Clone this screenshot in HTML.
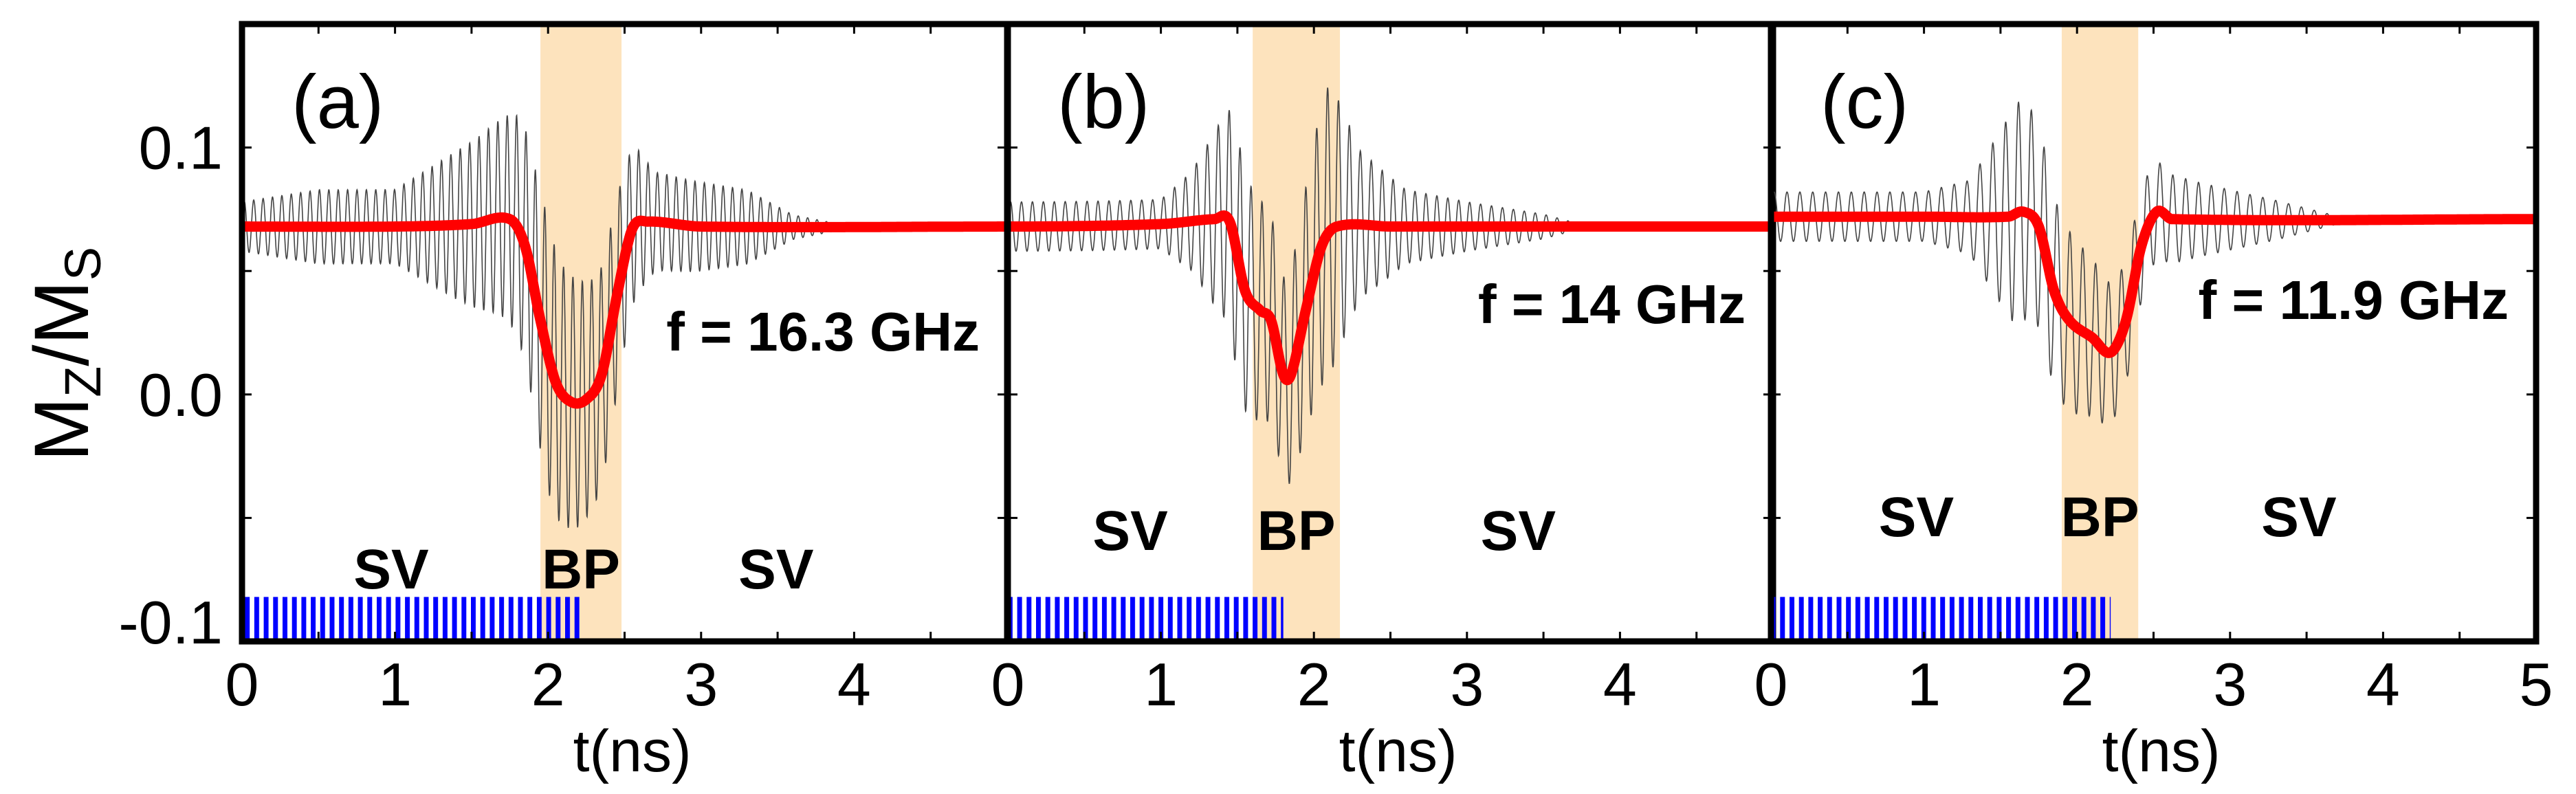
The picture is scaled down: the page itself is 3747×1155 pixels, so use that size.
<!DOCTYPE html>
<html><head><meta charset="utf-8"><style>
html,body{margin:0;padding:0;background:#fff;}
svg{display:block;font-family:"Liberation Sans",Arial,sans-serif;}
</style></head><body>
<svg id="chart" width="3747" height="1155" viewBox="0 0 3747 1155">
<defs>
<pattern id="stripes" patternUnits="userSpaceOnUse" width="13.7" height="100"><rect x="0" y="0" width="7" height="100" fill="#0000ff"/></pattern>
</defs>
<g id="plots"></g>
<text x="0" y="0" transform="translate(128,515) rotate(-90)" text-anchor="middle" font-size="112">M<tspan font-size="74" dy="18">Z</tspan><tspan dy="-18">/M</tspan><tspan font-size="74" dy="18">S</tspan></text>
</svg>
<script>
const panelLabels=["(a)","(b)","(c)"];
const freqLabels=["f = 16.3 GHz","f = 14 GHz","f = 11.9 GHz"];
const freqs=[16.3,14,11.9];
const bpStart=[1.95,1.6,1.9];
const bpEnd=[2.48,2.17,2.4];
const pulseEnd=[2.23,1.8,2.22];
const redT=[[0,1,1.5,1.75,1.85,1.95,2.05,2.15,2.25,2.35,2.45,2.55,2.65,3,5],
[0,1,1.35,1.45,1.55,1.65,1.72,1.8,1.85,1.95,2.05,2.15,2.5,5],
[0,1,1.55,1.65,1.75,1.85,1.95,2.1,2.22,2.32,2.42,2.52,2.62,5]];
const redV=[[0.068,0.068,0.069,0.071,0.06,0.03,0.005,-0.003,-0.002,0.008,0.04,0.067,0.07,0.068,0.068],
[0.068,0.069,0.071,0.07,0.042,0.034,0.03,0.008,0.008,0.035,0.06,0.068,0.068,0.068],
[0.072,0.072,0.072,0.074,0.068,0.042,0.03,0.023,0.017,0.03,0.06,0.074,0.071,0.071]];
const envT=[[0,0.5,1,1.4,1.7,2.0,2.2,2.45,2.7,3.0,3.3,3.6,4,5],
[0,1,1.2,1.5,1.8,2.1,2.3,2.6,3.0,3.5,3.8,5],
[0,1,1.3,1.6,1.8,2.0,2.5,2.8,3.3,3.8,5]];
const envV=[[0.01,0.015,0.015,0.03,0.04,0.055,0.05,0.04,0.02,0.018,0.015,0.005,0,0],
[0.01,0.01,0.02,0.05,0.04,0.06,0.03,0.015,0.01,0.005,0,0],
[0.01,0.01,0.015,0.045,0.04,0.035,0.02,0.015,0.008,0,0]];
const xTicks=[0,1,2,3,4,5];
const yTicks=[0.1,0.0,-0.1];
const yTickLabels=["0.1","0.0","-0.1"];
const svLabelY=[856,800,780];
const fLabelY=[510,470,464];

const NS="http://www.w3.org/2000/svg";
const g=document.getElementById('plots');
const panelX=[352,1466,2576], panelW=1113, topY=35, botY=933;
const yMin=-0.1,yMax=0.15;
function mk(tag,attrs,parent){const e=document.createElementNS(NS,tag);for(const k in attrs)e.setAttribute(k,attrs[k]);(parent||g).appendChild(e);return e;}
function lin(ts,vs,t){if(t<=ts[0])return vs[0];for(let i=1;i<ts.length;i++){if(t<=ts[i]){const u=(t-ts[i-1])/(ts[i]-ts[i-1]);return vs[i-1]+(vs[i]-vs[i-1])*u;}}return vs[vs.length-1];}
function spline(ts,vs,t){
  const n=ts.length;if(t<=ts[0])return vs[0];if(t>=ts[n-1])return vs[n-1];
  let i=1;while(ts[i]<t)i++;
  const t0=ts[i-1],t1=ts[i],h=t1-t0,u=(t-t0)/h;
  const m=k=>{if(k<=0||k>=n-1)return 0;return (vs[k+1]-vs[k-1])/(ts[k+1]-ts[k-1]);};
  const m0=m(i-1)*h,m1=m(i)*h,p0=vs[i-1],p1=vs[i];
  const u2=u*u,u3=u2*u;
  return (2*u3-3*u2+1)*p0+(u3-2*u2+u)*m0+(-2*u3+3*u2)*p1+(u3-u2)*m1;
}
for(let p=0;p<3;p++){
  const x0=panelX[p];
  const X=t=>x0+t/5*panelW;
  const Y=v=>botY-(v-yMin)/(yMax-yMin)*(botY-topY);
  const pg=mk('g',{});
  
  
  const sh=mk('rect',{x:X(bpStart[p]),y:topY,width:X(bpEnd[p])-X(bpStart[p]),height:botY-topY,fill:'#fde3bd'},pg);
  
  
  const bl=mk('rect',{x:X(0)+4,y:Y(-0.082),width:X(pulseEnd[p])-X(0)-4,height:botY-Y(-0.082),fill:'url(#stripes)'},pg);
  
  
  let d='';
  for(let i=0;i<=3000;i++){const t=i/3000*5;const v=spline(redT[p],redV[p],t)+lin(envT[p],envV[p],t)*Math.sin(2*Math.PI*freqs[p]*t);d+=(i?'L':'M')+X(t).toFixed(1)+','+Y(v).toFixed(1);}
  const bk=mk('path',{d:d,fill:'none',stroke:'#444',"stroke-width":1.6},pg);
  
  
  let d2='';
  for(let i=0;i<=800;i++){const t=i/800*5;d2+=(i?'L':'M')+X(t).toFixed(1)+','+Y(spline(redT[p],redV[p],t)).toFixed(1);}
  const rd=mk('path',{d:d2,fill:'none',stroke:'#ff0000',"stroke-width":15,"stroke-linejoin":"round"},pg);
  
  
  for(let t=0;t<=5;t+=0.5){mk('line',{x1:X(t),x2:X(t),y1:botY,y2:botY-14,stroke:'#000','stroke-width':3},pg);mk('line',{x1:X(t),x2:X(t),y1:topY,y2:topY+14,stroke:'#000','stroke-width':3},pg);}
  for(let v=-0.1;v<=0.151;v+=0.05){mk('line',{x1:x0,x2:x0+14,y1:Y(v),y2:Y(v),stroke:'#000','stroke-width':3},pg);mk('line',{x1:x0+panelW,x2:x0+panelW-14,y1:Y(v),y2:Y(v),stroke:'#000','stroke-width':3},pg);}
  const fr=mk('rect',{x:x0,y:topY,width:panelW,height:botY-topY,fill:'none',stroke:'#000','stroke-width':9},pg);
  
  
  const pl=mk('text',{x:x0+72,y:186,'font-size':110},pg);pl.textContent=panelLabels[p];
  
  
  const fl=mk('text',{x:x0+panelW-40,y:fLabelY[p],'font-size':80,'font-weight':'bold','text-anchor':'end'},pg);fl.textContent=freqLabels[p];
  
  
  const phases=[["SV",(bpStart[p])/2],["BP",(bpStart[p]+bpEnd[p])/2],["SV",(bpEnd[p]+5)/2-0.25]];
  phases.forEach(ph=>{const e=mk('text',{x:X(ph[1]),y:svLabelY[p],'font-size':82,'font-weight':'bold','text-anchor':'middle'},pg);e.textContent=ph[0];
    
    });
  xTicks.forEach(t=>{if(t===5&&p<2)return;const e=mk('text',{x:X(t),y:1026,'font-size':88,'text-anchor':'middle'},pg);e.textContent=String(t);
    
    });
  const xt=mk('text',{x:X(2.55),y:1122,'font-size':86,'text-anchor':'middle'},pg);xt.textContent='t(ns)';
  
  
  if(p===0){yTicks.forEach((v,i)=>{const yy=(i===2)?Y(v)-28:Y(v);const e=mk('text',{x:324,y:yy+31,'font-size':88,'text-anchor':'end'},pg);e.textContent=yTickLabels[i];
    
    });}
}
</script>
</body></html>
